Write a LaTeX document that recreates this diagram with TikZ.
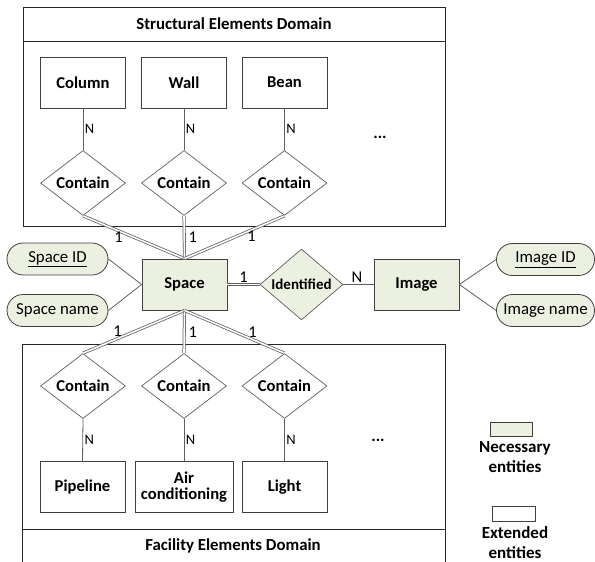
\documentclass[tikz,border=0pt]{standalone}
\usepackage{fontspec}
\setmainfont{Carlito}
\usetikzlibrary{shapes.geometric,shapes.misc}
\definecolor{necgreen}{RGB}{235,240,224}
\definecolor{edgegray}{RGB}{64,64,64}
\definecolor{linegray}{RGB}{95,95,95}
\begin{document}
\begin{tikzpicture}[x=1pt,y=-1pt,
  ent/.style={draw=edgegray, line width=0.8pt, rectangle, minimum width=85pt, minimum height=51pt, inner sep=0pt, align=center, font=\bfseries\fontsize{16.6}{17}\selectfont},
  need/.style={ent, fill=necgreen},
  rel/.style={diamond, draw=linegray, line width=0.7pt, minimum width=85pt, minimum height=50pt, inner sep=0pt, font=\bfseries\fontsize{16.6}{17}\selectfont},
  attr/.style={rounded rectangle, draw=edgegray, line width=0.8pt, fill=necgreen, minimum width=101pt, minimum height=32pt, inner sep=0pt, font=\fontsize{16.8}{18}\selectfont},
  conn/.style={draw=linegray, line width=0.8pt},
  dbl/.style={draw=linegray, line width=0.75pt, double=white, double distance=1.6pt},
  card/.style={font=\fontsize{16.5}{18}\selectfont, inner sep=0pt},
  ncard/.style={font=\fontsize{14.5}{16}\selectfont, inner sep=0pt},
  dombox/.style={draw=black!85, line width=0.8pt},
  domtitle/.style={font=\bfseries\fontsize{16.8}{17}\selectfont},
  legtext/.style={font=\bfseries\fontsize{17}{20}\selectfont, align=center, inner sep=0pt}
]
\useasboundingbox (0,0) rectangle (595,562);

% domain boxes
\draw[dombox] (23,7) rectangle (445,226);
\draw[dombox] (23,41) -- (445,41);
\node[domtitle] (topdom) at (234,24) {Structural Elements Domain};
\draw[dombox] (22,562) -- (22,344) -- (445,344) -- (445,562);
\draw[dombox] (22,529) -- (445,529);
\node[domtitle] (botdom) at (233,546) {Facility Elements Domain};

% structural entities
\node[ent] (col) at (83,82.5) {Column};
\node[ent] (wall) at (184,82.5) {Wall};
\node[ent] (bean) at (284.5,82.5) {Bean};
\node[rel] (c1) at (83,183) {Contain};
\node[rel] (c2) at (184,183) {Contain};
\node[rel] (c3) at (284.5,183) {Contain};
\node[font=\bfseries\fontsize{16.6}{17}\selectfont] (dots1) at (380,137) {...};

% central
\node[need] (space) at (184.5,284.5) {Space};
\node[rel, fill=necgreen, minimum width=83pt, minimum height=51pt] (ident) at (301.5,284.5) {\fontsize{15}{16}\selectfont Identified};
\node[need] (image) at (416.5,284.5) {Image};
\node[attr] (sid) at (57.5,259) {\underline{Space ID}};
\node[attr] (sname) at (57.5,310.5) {Space name};
\node[attr, minimum width=98pt] (iid) at (545.5,259.5) {\underline{Image ID}};
\node[attr, minimum width=98pt] (iname) at (545.5,310.5) {Image name};

% facility entities
\node[rel] (f1) at (83,386) {Contain};
\node[rel] (f2) at (184,386) {Contain};
\node[rel] (f3) at (284.5,386) {Contain};
\node[ent] (pipe) at (82.5,487) {Pipeline};
\node[ent, minimum width=98pt] (air) at (184,487) {Air\\[-1pt]conditioning};
\node[ent] (light) at (284.5,487) {Light};
\node[font=\bfseries\fontsize{16.6}{17}\selectfont] (dots2) at (378,440) {...};

% connectors top
\draw[conn] (col.south) -- node[ncard, right=1.5pt, pos=0.5] {N} (c1.north);
\draw[conn] (wall.south) -- node[ncard, right=1.5pt, pos=0.5] {N} (c2.north);
\draw[conn] (bean.south) -- node[ncard, right=1.5pt, pos=0.5] {N} (c3.north);
\draw[dbl] (c1.south) -- node[card, pos=0.35, below=0.5pt] {1} (space.north);
\draw[dbl] (c2.south) -- node[card, pos=0.5, right=4pt] {1} (space.north);
\draw[dbl] (c3.south) -- node[card, pos=0.33, below=0.5pt] {1} (space.north);

% connectors bottom
\draw[dbl] (space.south) -- node[card, pos=0.66, above=2pt] {1} (f1.north);
\draw[dbl] (space.south) -- node[card, pos=0.5, right=4pt] {1} (f2.north);
\draw[dbl] (space.south) -- node[card, pos=0.68, above=2pt] {1} (f3.north);
\draw[conn] (f1.south) -- node[ncard, right=1.5pt, pos=0.5] {N} (pipe.north);
\draw[conn] (f2.south) -- node[ncard, right=1.5pt, pos=0.5] {N} (air.north);
\draw[conn] (f3.south) -- node[ncard, right=1.5pt, pos=0.5] {N} (light.north);

% attributes & identification
\draw[conn] (sid.east) -- (space.west);
\draw[conn] (sname.east) -- (space.west);
\draw[conn] (iid.west) -- (image.east);
\draw[conn] (iname.west) -- (image.east);
\draw[dbl] (space.east) -- node[card, above=2pt] {1} (ident.west);
\draw[conn] (ident.east) -- node[card, above=2pt, pos=0.45] {N} (image.west);

% legend
\node[draw=edgegray, line width=0.8pt, fill=necgreen, minimum width=42pt, minimum height=14pt, inner sep=0pt] (legnec) at (511,429) {};
\node[legtext, below=5pt] (legnect) at (legnec.south -| 515,0) {Necessary\\entities};
\node[draw=edgegray, line width=0.8pt, fill=white, minimum width=43pt, minimum height=15pt, inner sep=0pt] (legext) at (513.5,513.5) {};
\node[legtext, below=5pt] (legextt) at (legext.south -| 515,0) {Extended\\entities};
\end{tikzpicture}
\end{document}
